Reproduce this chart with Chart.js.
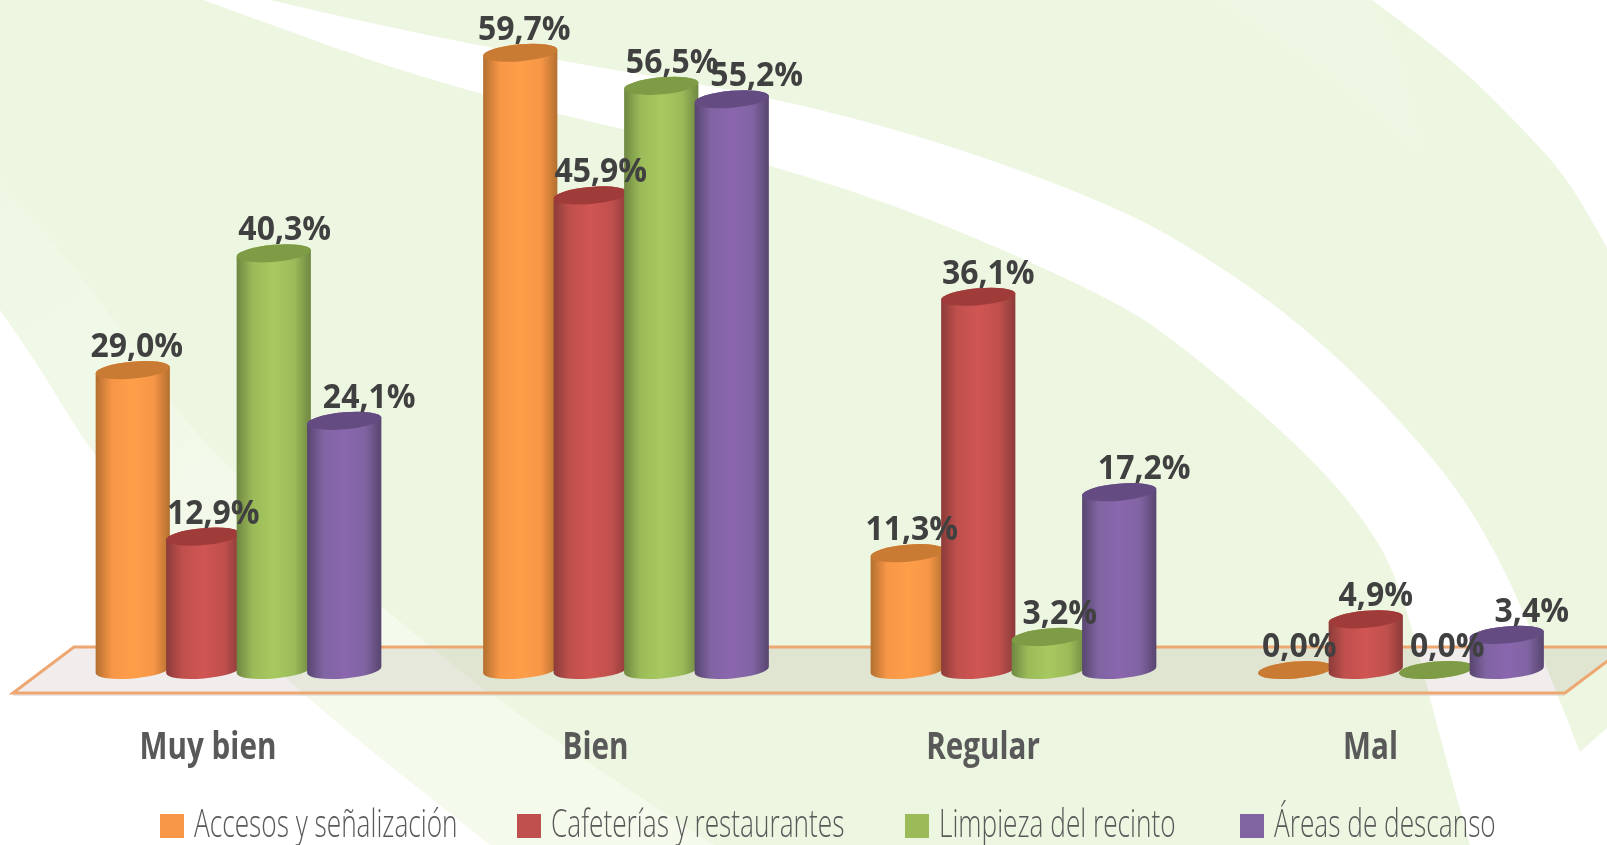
<!DOCTYPE html>
<html lang="es">
<head>
    <meta charset="UTF-8">
    <title>Valoración de servicios</title>
    <script src="https://cdn.jsdelivr.net/npm/chart.js"></script>
    <style>
        html, body { margin: 0; padding: 0; background: #fff; }
        canvas { display: block; }
    </style>
</head>
<body>
    <canvas id="chart" width="1607" height="845"></canvas>
    <script>
        const categories = ['Muy bien', 'Bien', 'Regular', 'Mal'];
        const seriesNames = ['Accesos y señalización', 'Cafeterías y restaurantes', 'Limpieza del recinto', 'Áreas de descanso'];
        const accesos = [29.0, 59.7, 11.3, 0.0];
        const cafeterias = [12.9, 45.9, 36.1, 4.9];
        const limpieza = [40.3, 56.5, 3.2, 0.0];
        const areas = [24.1, 55.2, 17.2, 3.4];
        const seriesValues = [accesos, cafeterias, limpieza, areas];

        const legendColors = ['#F79646', '#C0504D', '#9BBB59', '#8064A2'];
        const edgeColors = ['#B26F30', '#8C3B39', '#6E8741', '#57456F'];
        const brightColors = ['#FF9E49', '#D05553', '#A8C95F', '#8A66AE'];
        const capColors = ['#C97B34', '#9F3B39', '#7E9B46', '#644C82'];
        const labelNudge = [4, 10, 11, 25];
        const legendLeft = [160, 517, 905, 1240];

        function smooth(ctx, pts) {
            ctx.lineTo(pts[0][0], pts[0][1]);
            for (let i = 1; i < pts.length - 1; i++) {
                const mx = (pts[i][0] + pts[i + 1][0]) / 2;
                const my = (pts[i][1] + pts[i + 1][1]) / 2;
                ctx.quadraticCurveTo(pts[i][0], pts[i][1], mx, my);
            }
            const last = pts[pts.length - 1];
            ctx.lineTo(last[0], last[1]);
        }

        function shape(ctx, color, pts, rest) {
            ctx.fillStyle = color;
            ctx.beginPath();
            smooth(ctx, pts);
            rest.forEach(p => ctx.lineTo(p[0], p[1]));
            ctx.closePath();
            ctx.fill();
        }

        // the fonts here have no condensed cut, so squeeze the text sideways
        function squeezedText(ctx, text, x, y, squeeze) {
            ctx.save();
            ctx.translate(x, y);
            ctx.scale(squeeze, 1);
            ctx.fillText(text, 0, 0);
            ctx.restore();
        }

        const backdrop = {
            id: 'backdrop',
            beforeDraw(chart) {
                const ctx = chart.ctx;
                ctx.save();
                ctx.fillStyle = '#ECF6E0';
                ctx.fillRect(0, 0, 1607, 845);
                // faint patch top right
                shape(ctx, '#EEF7E3', [[1220, 0], [1340, 80], [1420, 150]], [[1400, 60], [1372, 0]]);
                // top right corner
                shape(ctx, '#FFFFFF', [[1372, 0], [1450, 57], [1517, 123], [1567, 177], [1607, 248]], [[1607, 0]]);
                // curved white band
                ctx.fillStyle = '#FFFFFF';
                ctx.beginPath();
                smooth(ctx, [[270, 0], [460, 45], [820, 103], [1110, 200], [1243, 280], [1327, 347], [1400, 420], [1467, 500], [1520, 600], [1580, 752]]);
                ctx.lineTo(1607, 728);
                ctx.lineTo(1607, 845);
                smooth(ctx, [[1470, 845], [1443, 750], [1400, 580], [1360, 513], [1300, 447], [1200, 360], [1110, 295], [820, 173], [460, 93], [203, 0]]);
                ctx.closePath();
                ctx.fill();
                // pale wedge and white wedge bottom left
                const pale = ctx.createLinearGradient(0, 180, 300, 640);
                pale.addColorStop(0, '#EEF7E4');
                pale.addColorStop(1, '#F4FAEC');
                shape(ctx, pale, [[0, 183], [83, 273], [167, 400], [233, 473], [418, 640], [560, 745], [714, 845]], [[0, 845]]);
                shape(ctx, '#FFFFFF', [[0, 310], [33, 357], [67, 413], [93, 453], [197, 590], [301, 695], [490, 845]], [[0, 845]]);
                ctx.restore();
            },
            beforeDatasetsDraw(chart) {
                const ctx = chart.ctx;
                const base = chart.scales.y.getPixelForValue(0);
                const front = base + 23;
                const back = base - 23;
                ctx.save();
                ctx.beginPath();
                ctx.moveTo(13, front);
                ctx.lineTo(74, back);
                ctx.lineTo(1626, back);
                ctx.lineTo(1565, front);
                ctx.closePath();
                ctx.fillStyle = 'rgba(120,90,80,0.11)';
                ctx.fill();
                ctx.strokeStyle = '#CFCFCF';
                ctx.lineWidth = 1;
                ctx.beginPath();
                ctx.moveTo(13, front + 2);
                ctx.lineTo(1565, front + 2);
                ctx.stroke();
                ctx.strokeStyle = '#EDA772';
                ctx.lineWidth = 3;
                ctx.beginPath();
                ctx.moveTo(13, front);
                ctx.lineTo(74, back);
                ctx.lineTo(1626, back);
                ctx.lineTo(1565, front);
                ctx.closePath();
                ctx.stroke();
                ctx.restore();
            }
        };

        function drawCylinder(ctx, bar, i) {
            const tilt = -5 * Math.PI / 180;
            const ry = 8.5;
            const rx = bar.width / 2 + 2;
            const grad = ctx.createLinearGradient(bar.x - rx, 0, bar.x + rx, 0);
            grad.addColorStop(0, edgeColors[i]);
            grad.addColorStop(0.22, legendColors[i]);
            grad.addColorStop(0.5, brightColors[i]);
            grad.addColorStop(0.78, legendColors[i]);
            grad.addColorStop(1, edgeColors[i]);
            ctx.beginPath();
            ctx.ellipse(bar.x, bar.base, rx, ry, tilt, Math.PI, 0, true);
            ctx.ellipse(bar.x, bar.y, rx, ry, tilt, 0, -Math.PI, true);
            ctx.closePath();
            ctx.fillStyle = grad;
            ctx.fill();
            ctx.beginPath();
            ctx.ellipse(bar.x, bar.y, rx, ry, tilt, 0, Math.PI * 2);
            ctx.fillStyle = capColors[i];
            ctx.fill();
        }

        // bars come out as cylinders, same x/y/base/width from the scales
        const cylinders = {
            id: 'cylinders',
            beforeDatasetDraw() {
                return false;
            },
            afterDatasetsDraw(chart) {
                const ctx = chart.ctx;
                ctx.save();
                seriesValues.forEach((values, i) => {
                    chart.getDatasetMeta(i).data.forEach(bar => drawCylinder(ctx, bar, i));
                });
                ctx.font = '700 33.6px "Open Sans"';
                ctx.fillStyle = '#404040';
                ctx.textAlign = 'center';
                ctx.textBaseline = 'alphabetic';
                seriesValues.forEach((values, i) => {
                    chart.getDatasetMeta(i).data.forEach((bar, j) => {
                        const label = values[j].toFixed(1).replace('.', ',') + '%';
                        squeezedText(ctx, label, bar.x + labelNudge[i], bar.y - 13, 0.952);
                    });
                });
                ctx.restore();
            }
        };

        // category labels sit left of the cylinders, legend row below them
        const condensedText = {
            id: 'condensedText',
            afterDraw(chart) {
                const ctx = chart.ctx;
                const xScale = chart.scales.x;
                ctx.save();
                ctx.font = '700 38px "Open Sans"';
                ctx.fillStyle = '#595959';
                ctx.textAlign = 'center';
                categories.forEach((name, i) => {
                    squeezedText(ctx, name, xScale.getPixelForTick(i) - 30.5, 759, 0.78);
                });
                ctx.font = '300 38px "Open Sans"';
                ctx.textAlign = 'left';
                seriesNames.forEach((name, i) => {
                    ctx.fillStyle = legendColors[i];
                    ctx.fillRect(legendLeft[i], 814, 24, 24);
                    ctx.fillStyle = '#595959';
                    squeezedText(ctx, name, legendLeft[i] + 34, 837, 0.69);
                });
                ctx.restore();
            }
        };

        new Chart(document.getElementById('chart'), {
            type: 'bar',
            data: {
                labels: categories,
                datasets: seriesValues.map((values, i) => ({
                    label: seriesNames[i],
                    data: values,
                    backgroundColor: legendColors[i],
                    categoryPercentage: 0.7277,
                    barPercentage: 1
                }))
            },
            options: {
                responsive: false,
                animation: false,
                layout: { padding: { left: 44.75, right: 12.25, top: 0, bottom: 175 } },
                plugins: {
                    legend: { display: false },
                    tooltip: { enabled: false }
                },
                scales: {
                    x: {
                        grid: { display: false, drawTicks: false },
                        border: { display: false },
                        ticks: { display: false }
                    },
                    y: { display: false, min: 0, max: 64.8 }
                }
            },
            plugins: [backdrop, cylinders, condensedText]
        });
    </script>
</body>
</html>
